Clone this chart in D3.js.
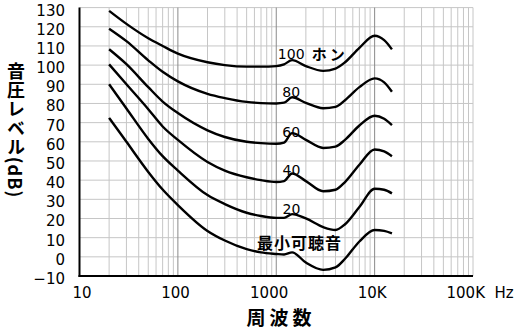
<!DOCTYPE html>
<html>
<head>
<meta charset="utf-8">
<script src="https://cdn.jsdelivr.net/npm/d3@7"></script>
<style>
  html, body { margin: 0; padding: 0; background: #fff; }
  svg { display: block; }
</style>
</head>
<body>
<svg id="chart" width="515" height="331"></svg>
<script>
// ---- data ----
const freqs = [20, 30, 50, 70, 100, 200, 300, 500, 700, 1000, 1200, 1450, 2000, 3000, 4000, 5000, 7000, 10000, 12500, 15000];
const phon100 = [128.3, 121.5, 114, 110, 106, 101.5, 100, 99.2, 99.2, 99.5, 100.4, 102.6, 99.5, 97, 98.2, 101.5, 109, 115.3, 113, 108.2];
const phon80 = [119, 112.5, 102.5, 96.5, 91.5, 85, 82.8, 80.8, 80.2, 80, 80.4, 83.2, 80.3, 77.5, 78.2, 81.7, 88.5, 93.1, 91, 86.1];
const phon60 = [108.3, 100.5, 88.5, 81, 75, 66, 62.5, 60, 59.3, 59, 59.6, 64.5, 61, 56.8, 57.5, 61, 68.5, 73.6, 72, 68.7];
const phon40 = [100.4, 90, 77, 68, 61, 49.5, 45, 41.5, 40, 39, 39.5, 43.5, 39.5, 34.2, 35, 39, 48, 56, 55, 52.5];
const phon20 = [90, 77.4, 61.5, 52.5, 45, 32.2, 27.5, 23, 21.3, 20.3, 20.3, 22.3, 20, 15.5, 14, 17, 26, 35.5, 35, 33.1];
const threshold = [72.5, 60, 44.3, 35.1, 27, 13.5, 8.5, 4, 2.3, 1.5, 1.2, 2.3, -3, -6.8, -5.5, -1, 8, 14, 13.5, 12.2];
const series = [phon100, phon80, phon60, phon40, phon20, threshold];

const yTicks = [130, 120, 110, 100, 90, 80, 70, 60, 50, 40, 30, 20, 10, 0, -10];
const xTicks = [10, 100, 1000, 10000, 100000];
const xTickLabels = ["10", "100", "1000", "10K", "100K"];
const xUnit = "Hz";
const xTitle = "周波数";
const yTitle = "音圧レベル(dB)";

// curve labels: text, frequency, dB (label centre)
const curveLabels = [
  { text: "100", f: 1420, db: 105.6 },
  { text: "80", f: 1420, db: 86.1 },
  { text: "60", f: 1420, db: 65.0 },
  { text: "40", f: 1430, db: 45.2 },
  { text: "20", f: 1430, db: 24.7 }
];
const unitLabel = { text: "ホン", f: 3500, db: 105.3 };
const thresholdLabel = { text: "最小可聴音", f: 1720, db: 7.3 };

// ---- scales ----
const svg = d3.select("#chart");
const x = d3.scaleLog().domain([10, 100000]).range([79.5, 473]);
const y = d3.scaleLinear().domain([-10, 130]).range([276, 7.6]);

// minor grid frequencies
const gridF = [];
for (let d = 10; d < 100000; d *= 10) {
  for (let k = 2; k <= 9; k++) gridF.push(d * k);
}

const g = svg.append("g");

// horizontal gridlines
g.selectAll("line.hgrid").data(yTicks.filter(v => v > -10)).join("line")
  .attr("x1", x(10)).attr("x2", x(100000))
  .attr("y1", d => y(d)).attr("y2", d => y(d))
  .attr("stroke", "#c6c6c6").attr("stroke-width", 1);

// vertical gridlines (minor)
g.selectAll("line.vgrid").data(gridF).join("line")
  .attr("x1", d => x(d)).attr("x2", d => x(d))
  .attr("y1", y(130)).attr("y2", y(-10))
  .attr("stroke", "#c6c6c6").attr("stroke-width", 1);

// decade lines
g.selectAll("line.dgrid").data([100, 1000, 10000]).join("line")
  .attr("x1", d => x(d)).attr("x2", d => x(d))
  .attr("y1", y(130)).attr("y2", y(-10))
  .attr("stroke", "#8a8a8a").attr("stroke-width", 1);

// right border
g.append("line")
  .attr("x1", x(100000)).attr("x2", x(100000))
  .attr("y1", y(130)).attr("y2", y(-10))
  .attr("stroke", "#c6c6c6").attr("stroke-width", 1);

// axes (black)
g.append("line").attr("x1", x(10)).attr("x2", x(10)).attr("y1", y(130)).attr("y2", y(-10) + 1)
  .attr("stroke", "#000").attr("stroke-width", 2);
g.append("line").attr("x1", x(10) - 1).attr("x2", x(100000)).attr("y1", y(-10)).attr("y2", y(-10))
  .attr("stroke", "#000").attr("stroke-width", 2);

// curves
const line = d3.line()
  .x((d, i) => x(freqs[i]))
  .y(d => y(d))
  .curve(d3.curveMonotoneX);

g.selectAll("path.curve").data(series).join("path")
  .attr("class", "curve")
  .attr("d", d => line(d))
  .attr("fill", "none")
  .attr("stroke", "#000")
  .attr("stroke-width", 2.4)
  .attr("stroke-linejoin", "round");

// y tick labels
g.selectAll("text.ytick").data(yTicks).join("text")
  .attr("x", 65)
  .attr("y", d => y(d) + 8)
  .attr("text-anchor", "end")
  .attr("font-family", "DejaVu Sans")
  .attr("font-size", 15)
  .attr("fill", "#000")
  .text(d => d < 0 ? "\u2212" + Math.abs(d) : d);

// x tick labels (right edge slightly past the tick, as in the original)
g.selectAll("text.xtick").data(xTicks).join("text")
  .attr("x", d => x(d) + 12)
  .attr("y", 298)
  .attr("text-anchor", "end")
  .attr("font-family", "DejaVu Sans")
  .attr("font-size", 15)
  .attr("fill", "#000")
  .text((d, i) => xTickLabels[i]);

g.append("text").attr("x", 504).attr("y", 298)
  .attr("text-anchor", "middle")
  .attr("font-family", "DejaVu Sans").attr("font-size", 15)
  .text(xUnit);

// axis titles
g.append("text").attr("x", 281).attr("y", 325)
  .attr("text-anchor", "middle")
  .attr("font-family", "Noto Sans CJK JP").attr("font-weight", "bold")
  .attr("font-size", 19).attr("letter-spacing", 4)
  .text(xTitle);

g.append("text").attr("x", 16).attr("y", 130)
  .attr("text-anchor", "middle")
  .style("writing-mode", "vertical-rl")
  .attr("font-family", "Noto Sans CJK JP").attr("font-weight", "bold")
  .attr("font-size", 18).attr("letter-spacing", 1)
  .text(yTitle);

// curve labels
g.selectAll("text.clabel").data(curveLabels).join("text")
  .attr("x", d => x(d.f))
  .attr("y", d => y(d.db) + 5)
  .attr("text-anchor", "middle")
  .attr("font-family", "DejaVu Sans")
  .attr("font-size", 14)
  .text(d => d.text);

g.append("text").attr("x", x(unitLabel.f)).attr("y", y(unitLabel.db) + 5.5)
  .attr("text-anchor", "middle")
  .attr("font-family", "Noto Sans CJK JP").attr("font-weight", "bold")
  .attr("font-size", 15).attr("letter-spacing", 3)
  .text(unitLabel.text);

g.append("text").attr("x", x(thresholdLabel.f)).attr("y", y(thresholdLabel.db) + 6)
  .attr("text-anchor", "middle")
  .attr("font-family", "Noto Sans CJK JP").attr("font-weight", "bold")
  .attr("font-size", 16).attr("letter-spacing", 1)
  .text(thresholdLabel.text);
</script>
</body>
</html>
